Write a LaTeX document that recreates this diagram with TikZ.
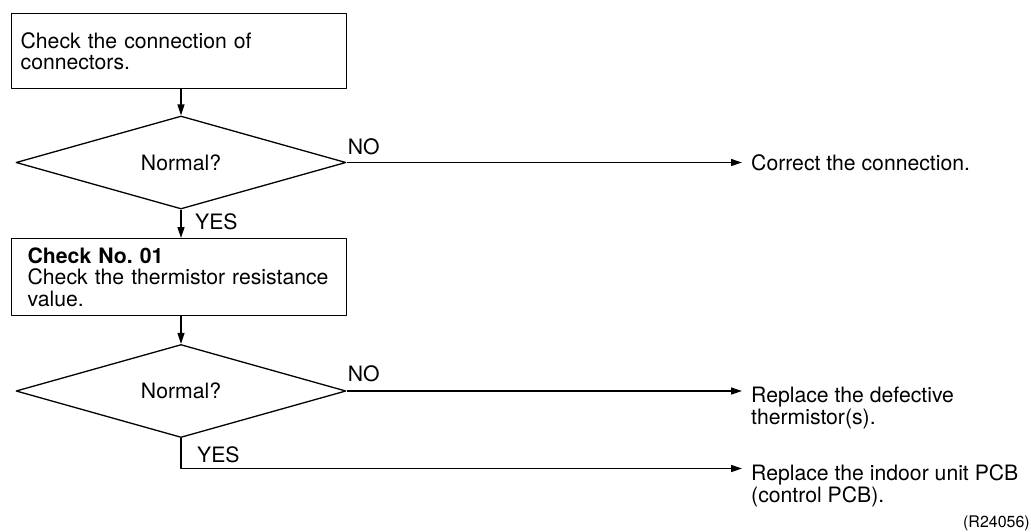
\documentclass[tikz,border=0pt]{standalone}
\usepackage{fontspec}
\setmainfont{TeX Gyre Heros}
\usetikzlibrary{shapes.geometric,arrows.meta}

\begin{document}
\begin{tikzpicture}[x=1pt, y=-1pt, line join=round,
        font=\fontsize{21.2}{21.5}\selectfont\frenchspacing,
        boite/.style={draw, line width=1.3pt, rectangle, minimum width=335pt,
            align=left, anchor=north west, inner ysep=0pt},
        losange/.style={draw, line width=1.3pt, diamond, aspect=3.5,
            minimum width=330pt, minimum height=93pt, inner sep=0pt},
        fleche/.style={line width=1.3pt, -{Triangle[length=11pt, width=7pt]}},
        sortie/.style={anchor=west, inner xsep=9pt, inner ysep=0pt, align=left}]
    \useasboundingbox (0,0) rectangle (1031,531);

    \node[boite, text width=317pt, inner xsep=9pt, minimum height=75pt] (verif) at (11,13)
        {Check the connection of\\connectors.};
    \node[losange] (normal1) at (181,162.5) {Normal?};
    \node[boite, text width=303pt, inner xsep=16pt, minimum height=77pt] (mesure) at (11,238)
        {\textbf{Check No. 01}\\Check the thermistor resistance\\value.};
    \node[losange] (normal2) at (181,391) {Normal?};

    \node[sortie] (corriger) at (742,162.5) {Correct the connection.};
    \node[sortie, anchor=north west] (thermistance) at (742,387)
        {Replace the defective\\thermistor(s).};
    \node[sortie, anchor=north west] (carte) at (742,464.5)
        {Replace the indoor unit PCB\\(control PCB).};

    \draw[fleche] (normal1.north |- verif.south) -- (normal1.north);
    \draw[fleche] (normal1.south) -- (normal1.south |- mesure.north);
    \draw[fleche] (normal2.north |- mesure.south) -- (normal2.north);
    \draw[fleche] (normal1.east) -- (corriger.west);
    \draw[fleche] (normal2.east) -- (normal2.east -| thermistance.west);
    \draw[fleche] (normal2.south) |- ([yshift=-4pt]carte.north west);

    \node[anchor=south west, inner xsep=1pt, inner ysep=7pt] (non1) at (normal1.east) {NO};
    \node[anchor=north west, inner xsep=14pt, inner ysep=4pt] (oui1) at (normal1.south) {YES};
    \node[anchor=south west, inner xsep=1pt, inner ysep=9pt] (non2) at (normal2.east) {NO};
    \node[anchor=north west, inner xsep=16pt, inner ysep=8pt] (oui2) at (normal2.south) {YES};

    \node[anchor=base east, inner sep=0pt, font=\fontsize{16}{16}\selectfont] (code) at (1030,527) {(R24056)};
\end{tikzpicture}
\end{document}
